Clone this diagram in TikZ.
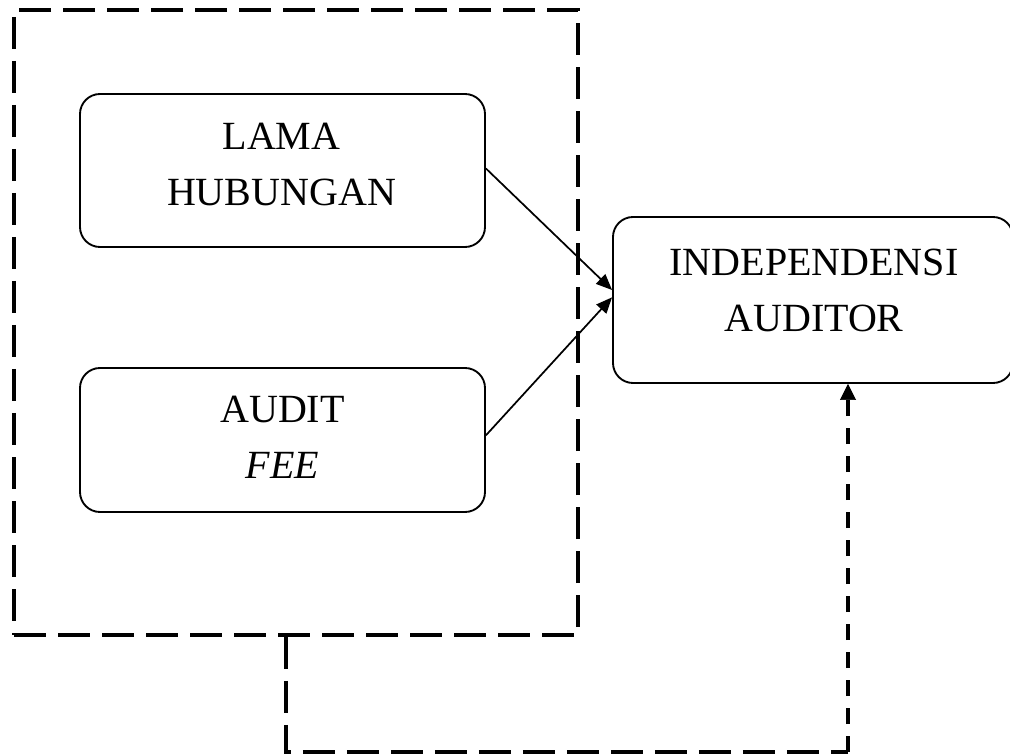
\documentclass[tikz,border=0pt]{standalone}
\usepackage{fontspec}
\setmainfont{Liberation Serif}
\usetikzlibrary{arrows.meta}
\tikzset{
  varbox/.style={draw, line width=1.4pt, rounded corners=15pt, inner sep=0pt},
  lbl/.style={align=center, inner sep=0pt, font=\fontsize{30}{42}\selectfont},
  groupbox/.style={draw, line width=2.9pt, dash pattern=on 24pt off 9pt, inner sep=0pt},
  conn/.style={line width=2.9pt, dash pattern=on 24pt off 9pt},
  arr/.style={line width=1.3pt, -{Triangle[length=12pt,width=10pt]}}
}
\begin{document}
\begin{tikzpicture}[x=0.75pt, y=-0.75pt]
\useasboundingbox (0,0) rectangle (1010,755);
% dashed group box
\node[groupbox, minimum width=423pt, minimum height=468.75pt] (grp) at (296,322.5) {};
% variable boxes
\node[varbox, minimum width=303.75pt, minimum height=114.75pt] (lama) at (282.5,170.5) {};
\node[varbox, minimum width=303.75pt, minimum height=108pt] (audit) at (282.5,440) {};
\node[varbox, minimum width=300pt, minimum height=124.5pt] (indep) at (813,300) {};
% labels
\node[lbl] (tlama) at (281.5,164.5) {LAMA\\HUBUNGAN};
\node[lbl] (taudit) at (282.5,437.5) {AUDIT\\\textit{FEE}};
\node[lbl] (tindep) at (814,290) {INDEPENDENSI\\AUDITOR};
% arrows
\draw[arr] ([yshift=1.5pt]lama.east) -- ([yshift=7.5pt]indep.west);
\draw[arr] ([yshift=3.5pt]audit.east) -- ([yshift=2pt]indep.west);
% dashed feedback connector
\coordinate (c1) at (286,752);
\coordinate (c2) at (848,752);
\draw[conn] (grp.south -| c1) -- (c1) -- (c2);
\draw[conn, line width=3.4pt, dash pattern=on 12pt off 9pt, -{Triangle[length=12pt,width=12pt,line width=0.5pt]}] (c2) -- (c2 |- indep.south);
\end{tikzpicture}
\end{document}
